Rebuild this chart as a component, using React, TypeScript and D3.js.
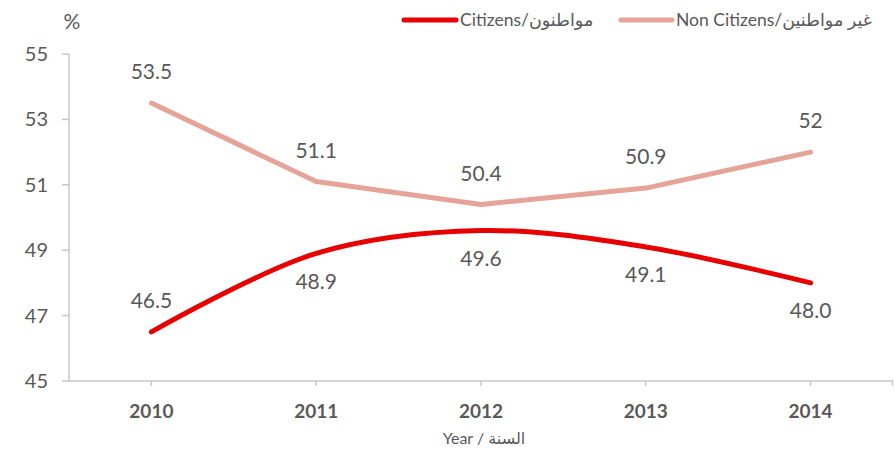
import React, { useEffect, useRef } from 'react';
import * as d3 from 'd3';

const years = ['2010', '2011', '2012', '2013', '2014'];
const citizens = [46.5, 48.9, 49.6, 49.1, 48.0];
const citizenLabels = ['46.5', '48.9', '49.6', '49.1', '48.0'];
const nonCitizens = [53.5, 51.1, 50.4, 50.9, 52.0];
const nonCitizenLabels = ['53.5', '51.1', '50.4', '50.9', '52'];
const yTicks = [45, 47, 49, 51, 53, 55];

const W = 895;
const H = 455;
const FONT = 'Lato, "DejaVu Sans", sans-serif';
const TEXT = '#595959';
const AXIS = '#c8c8c8';
const RED = '#e60000';
const PINK = '#e6a398';

export default function App() {
  const ref = useRef<SVGSVGElement>(null);

  useEffect(() => {
    const svg = d3.select(ref.current);
    svg.selectAll('*').remove();

    const x = d3.scaleBand().domain(years).range([69, 893]).padding(0);
    const cx = (d: string) => (x(d) as number) + x.bandwidth() / 2;
    const y = d3.scaleLinear().domain([45, 55]).range([381, 54]);

    // y axis
    svg.append('line')
      .attr('x1', 69).attr('x2', 69).attr('y1', y(55)).attr('y2', y(45))
      .attr('stroke', AXIS).attr('stroke-width', 1.5);
    yTicks.forEach(t => {
      svg.append('line')
        .attr('x1', 62).attr('x2', 69).attr('y1', y(t)).attr('y2', y(t))
        .attr('stroke', AXIS).attr('stroke-width', 1.5);
      svg.append('text')
        .attr('x', 48).attr('y', y(t)).attr('dy', '0.35em')
        .attr('text-anchor', 'end')
        .attr('font-family', FONT).attr('font-size', 20).attr('fill', TEXT)
        .text(String(t));
    });
    svg.append('text')
      .attr('x', 72).attr('y', 22).attr('dy', '0.35em')
      .attr('text-anchor', 'middle')
      .attr('font-family', FONT).attr('font-size', 21).attr('fill', TEXT)
      .text('%');

    // x axis
    svg.append('line')
      .attr('x1', 69).attr('x2', 893).attr('y1', y(45)).attr('y2', y(45))
      .attr('stroke', AXIS).attr('stroke-width', 1.5);
    years.forEach(d => {
      svg.append('line')
        .attr('x1', cx(d)).attr('x2', cx(d)).attr('y1', y(45)).attr('y2', y(45) + 5)
        .attr('stroke', AXIS).attr('stroke-width', 1.5);
      svg.append('text')
        .attr('x', cx(d)).attr('y', 411).attr('dy', '0.35em')
        .attr('text-anchor', 'middle')
        .attr('font-family', FONT).attr('font-size', 19).attr('font-weight', 'bold')
        .attr('fill', TEXT)
        .text(d);
    });
    svg.append('line')
      .attr('x1', 892.5).attr('x2', 892.5).attr('y1', y(45)).attr('y2', y(45) + 5)
      .attr('stroke', AXIS).attr('stroke-width', 1.5);
    svg.append('text')
      .attr('x', 484).attr('y', 438).attr('dy', '0.35em')
      .attr('text-anchor', 'middle')
      .attr('font-family', FONT).attr('font-size', 16).attr('fill', TEXT)
      .text('Year / السنة');

    // lines
    const lineCit = d3.line<number>()
      .x((_, i) => cx(years[i]))
      .y(v => y(v))
      .curve(d3.curveCatmullRom.alpha(0.5));
    const lineNon = d3.line<number>()
      .x((_, i) => cx(years[i]))
      .y(v => y(v));

    svg.append('path').attr('d', lineNon(nonCitizens))
      .attr('fill', 'none').attr('stroke', PINK).attr('stroke-width', 5)
      .attr('stroke-linecap', 'round').attr('stroke-linejoin', 'round');
    svg.append('path').attr('d', lineCit(citizens))
      .attr('fill', 'none').attr('stroke', RED).attr('stroke-width', 5)
      .attr('stroke-linecap', 'round').attr('stroke-linejoin', 'round');

    // data labels
    nonCitizens.forEach((v, i) => {
      svg.append('text')
        .attr('x', cx(years[i])).attr('y', y(v) - 31).attr('dy', '0.35em')
        .attr('text-anchor', 'middle')
        .attr('font-family', FONT).attr('font-size', 21).attr('fill', TEXT)
        .text(nonCitizenLabels[i]);
    });
    citizens.forEach((v, i) => {
      const off = i === 0 ? -31 : 28;
      svg.append('text')
        .attr('x', cx(years[i])).attr('y', y(v) + off).attr('dy', '0.35em')
        .attr('text-anchor', 'middle')
        .attr('font-family', FONT).attr('font-size', 21).attr('fill', TEXT)
        .text(citizenLabels[i]);
    });

    // legend
    const legend = [
      { x1: 404, x2: 456, color: RED, label: 'Citizens/مواطنون', tx: 460 },
      { x1: 621, x2: 672, color: PINK, label: 'Non Citizens/غير مواطنين', tx: 676 },
    ];
    legend.forEach(l => {
      svg.append('line')
        .attr('x1', l.x1).attr('x2', l.x2).attr('y1', 20).attr('y2', 20)
        .attr('stroke', l.color).attr('stroke-width', 5).attr('stroke-linecap', 'round');
      svg.append('text')
        .attr('x', l.tx).attr('y', 20).attr('dy', '0.35em')
        .attr('font-family', FONT).attr('font-size', 17.5).attr('fill', TEXT)
        .text(l.label);
    });
  }, []);

  return (
    <svg ref={ref} width={W} height={H}
      style={{ position: 'absolute', left: 0, top: 0, background: '#fff' }} />
  );
}
